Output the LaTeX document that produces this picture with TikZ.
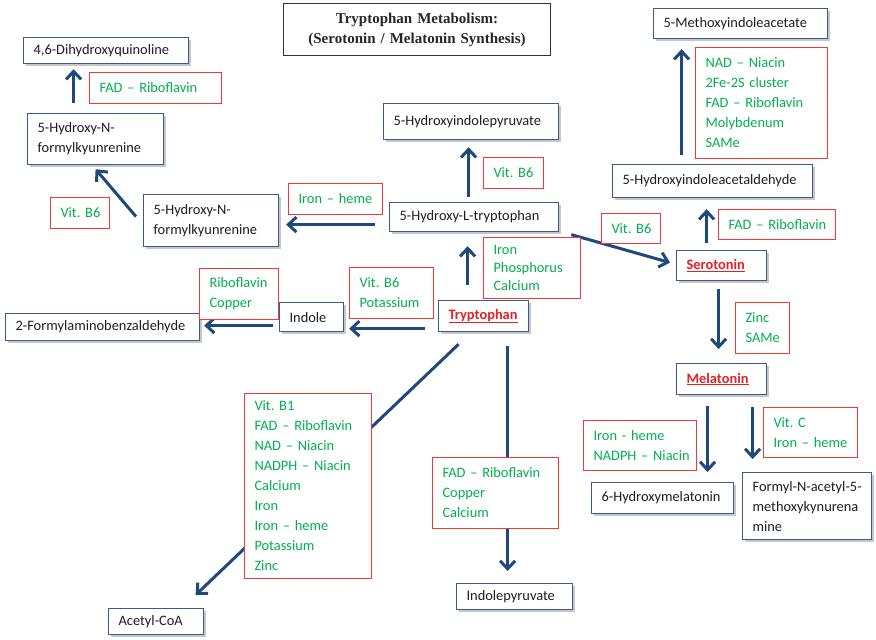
\documentclass[tikz,border=0pt]{standalone}
\usepackage{fontspec}
\setmainfont{Carlito}
\newfontfamily\titlefont{Liberation Serif}
\usetikzlibrary{arrows.meta,calc,shadows}
\definecolor{arrblue}{RGB}{31,73,125}
\definecolor{boxblue}{RGB}{56,93,138}
\definecolor{lblred}{RGB}{238,58,58}
\definecolor{txtgreen}{RGB}{0,176,80}
\definecolor{hired}{RGB}{228,32,40}
\definecolor{txtdark}{RGB}{30,30,30}
\hyphenpenalty=10000
\exhyphenpenalty=10000
\frenchspacing
\begin{document}
\begin{tikzpicture}[x=1pt,y=-1pt,
  every node/.style={font=\fontsize{14.4}{20}\selectfont, inner ysep=0pt, inner xsep=10pt, anchor=north west, align=left},
  bluebox/.style={draw=boxblue, line width=1.2pt, fill=white, text=txtdark,
    drop shadow={shadow xshift=2.5pt, shadow yshift=-2.5pt, fill=black, opacity=0.22}},
  redbox/.style={draw=lblred, line width=1pt, fill=white, text=txtgreen},
  arr/.style={draw=arrblue, line width=3pt, -{Straight Barb[length=8pt,width=15pt]}}
]
\useasboundingbox (0,0) rectangle (876,640);
\fill[white] (0,0) rectangle (876,640);

% title
\node[draw=black!80, line width=1pt, minimum width=267pt, minimum height=52pt, text width=247pt, align=center,
  font=\titlefont\bfseries\fontsize{15}{20}\selectfont, text=black!85] (title) at (283,3)
  {Tryptophan Metabolism:\\(Serotonin / Melatonin Synthesis)};

% main boxes
\node[bluebox, minimum width=165pt, minimum height=26pt, text width=145pt] (dhq) at (23,37) {4,6-Dihydroxyquinoline};
\node[bluebox, minimum width=136pt, minimum height=51pt, text width=116pt] (hfka) at (27,113) {5-Hydroxy-N-\\formylkyunrenine};
\node[bluebox, minimum width=135pt, minimum height=52pt, text width=115pt] (hfkb) at (143,194) {5-Hydroxy-N-\\formylkyunrenine};
\node[bluebox, minimum width=169pt, minimum height=29pt, text width=149pt] (htp) at (389,202) {5-Hydroxy-L-tryptophan};
\node[bluebox, minimum width=175pt, minimum height=36pt, text width=155pt] (hip) at (383,103) {5-Hydroxyindolepyruvate};
\node[bluebox, minimum width=174pt, minimum height=30pt, text width=154pt] (mia) at (653,8) {5-Methoxyindoleacetate};
\node[bluebox, minimum width=200pt, minimum height=33pt, text width=180pt] (hia) at (612,164) {5-Hydroxyindoleacetaldehyde};
\node[bluebox, minimum width=90pt, minimum height=30pt, text width=70pt] (ser) at (676,250) {\textcolor{hired}{\bfseries\underline{Serotonin}}};
\node[bluebox, minimum width=90pt, minimum height=31pt, text width=70pt] (mel) at (676,363) {\textcolor{hired}{\bfseries\underline{Melatonin}}};
\node[bluebox, minimum width=142pt, minimum height=31pt, text width=122pt] (hm) at (591,482) {6-Hydroxymelatonin};
\node[bluebox, minimum width=129pt, minimum height=67pt, text width=109pt] (fam) at (742,472) {Formyl-N-acetyl-5-\\methoxykynurena\\mine};
\node[bluebox, minimum width=90pt, minimum height=31pt, text width=70pt] (trp) at (438,300) {\textcolor{hired}{\bfseries\underline{Tryptophan}}};
\node[bluebox, minimum width=64pt, minimum height=29pt, text width=44pt] (ind) at (279,302) {Indole};
\node[bluebox, minimum width=194pt, minimum height=27pt, text width=174pt] (fab) at (5,313) {2-Formylaminobenzaldehyde};
\node[bluebox, minimum width=95pt, minimum height=26pt, text width=75pt] (aco) at (108,608) {Acetyl-CoA};
\node[bluebox, minimum width=116pt, minimum height=26pt, text width=96pt] (ipy) at (456,583) {Indolepyruvate};

% connectors
\draw[arr] ($(trp.north)+(-16,-15)$) -- ($(htp.south)+(-6.5,14)$);
\draw[arr] ($(htp.north)+(-5.5,-5)$) -- ($(hip.south)+(-2.5,7)$);
\draw[arr] ($(htp.west)+(-14,7.5)$) -- ($(hfkb.east)+(7,4)$);
\draw[arr] ($(hfkb.west)+(-7,-4)$) -- ($(hfka.south)+(0,4)$);
\draw[arr] ($(hfka.north)+(-22,-10)$) -- ($(dhq.south)+(-32.5,5)$);
\draw[arr] ($(htp.east)+(12,17.5)$) -- ($(ser.west)+(-6,-3)$);
\draw[arr] ($(ser.north)+(-15,-7)$) -- ($(hia.south)+(-6,11)$);
\draw[arr] ($(hia.north)+(-31,-9)$) -- ($(mia.south)+(-59,10)$);
\draw[arr] ($(ser.south)+(-3,8)$) -- ($(mel.north)+(-3,-14)$);
\draw[arr] ($(mel.south)+(-14,11)$) -- ($(hm.north)+(45,-10)$);
\draw[arr] ($(mel.south)+(31,12)$) -- ($(fam.north)+(-54.5,-13)$);
\draw[arr] ($(trp.west)+(-13,12.5)$) -- ($(ind.east)+(5,11.5)$);
\draw[arr] ($(ind.west)+(-6,8.5)$) -- ($(fab.east)+(4,-1.5)$);
\draw[arr] ($(trp.south)+(-25,12)$) -- ($(aco.north)+(39.5,-13)$);
\draw[arr] ($(trp.south)+(24,14)$) -- ($(ipy.north)+(-7,-12)$);

% cofactor labels
\node[redbox, minimum width=132pt, minimum height=31pt, text width=112pt] (ra) at (89,72) {FAD~–~Riboflavin};
\node[redbox, minimum width=59pt, minimum height=31pt, text width=39pt] (rb) at (50,197) {Vit.~B6};
\node[redbox, minimum width=94pt, minimum height=31pt, text width=74pt] (rc) at (288,183) {Iron~–~heme};
\node[redbox, minimum width=60pt, minimum height=31pt, text width=40pt] (rd) at (483,157) {Vit.~B6};
\node[redbox, minimum width=132pt, minimum height=111pt, text width=112pt] (re) at (695,47) {NAD~–~Niacin\\2Fe-2S~cluster\\FAD~–~Riboflavin\\Molybdenum\\SAMe};
\node[redbox, minimum width=117pt, minimum height=30pt, text width=97pt] (rf) at (718,209) {FAD~–~Riboflavin};
\node[redbox, minimum width=59pt, minimum height=30pt, text width=39pt] (rg) at (601,213) {Vit.~B6};
\node[redbox, minimum width=97pt, minimum height=61pt, text width=77pt, font=\fontsize{14.4}{18}\selectfont] (rh) at (483,237) {Iron\\Phosphorus\\Calcium};
\node[redbox, minimum width=84pt, minimum height=51pt, text width=64pt] (ri) at (349,267) {Vit.~B6\\Potassium};
\node[redbox, minimum width=79pt, minimum height=51pt, text width=59pt] (rj) at (199,268) {Riboflavin\\Copper};
\node[redbox, minimum width=127pt, minimum height=185pt, text width=107pt] (rk) at (244,393) {Vit.~B1\\FAD~–~Riboflavin\\NAD~–~Niacin\\NADPH~–~Niacin\\Calcium\\Iron\\Iron~–~heme\\Potassium\\Zinc};
\node[redbox, minimum width=126pt, minimum height=71pt, text width=106pt] (rl) at (432,457) {FAD~–~Riboflavin\\Copper\\Calcium};
\node[redbox, minimum width=54pt, minimum height=51pt, text width=34pt] (rm) at (735,302) {Zinc\\SAMe};
\node[redbox, minimum width=113pt, minimum height=50pt, text width=93pt] (rn) at (583,420) {Iron~-~heme\\NADPH~–~Niacin};
\node[redbox, minimum width=94pt, minimum height=50pt, text width=74pt] (ro) at (763,407) {Vit.~C\\Iron~–~heme};
\end{tikzpicture}
\end{document}
